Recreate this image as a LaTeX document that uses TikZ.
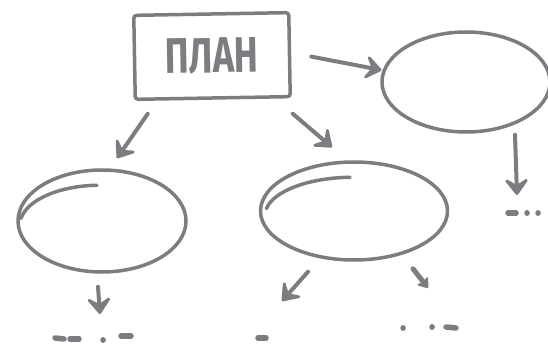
\documentclass[tikz,border=0pt]{standalone}
\usepackage{fontspec}
\setsansfont{Fira Sans}
\usepackage{graphicx}
\usetikzlibrary{positioning}
\usetikzlibrary{arrows.meta,shapes.geometric}
\definecolor{pen}{RGB}{125,125,129}
\tikzstyle{planbox}=[draw=pen,line width=3.5pt,rounded corners=3pt,minimum width=155pt,minimum height=84pt,inner sep=0pt,text=pen,font=\sffamily\bfseries\fontsize{50}{50}\selectfont]
\tikzstyle{bubble}=[ellipse,draw=pen,line width=3.5pt,inner sep=0pt]
\tikzstyle{edge} = [draw=pen,line width=4pt,line cap=round,line join=round,-{Stealth[length=20pt,width=30pt,inset=9pt,round]}]
\tikzstyle{smalledge} = [draw=pen,line width=5pt,line cap=round,line join=round,-{Stealth[length=11pt,width=16pt,inset=3pt,round]}]
\tikzstyle{scribble} = [draw=pen,line width=5.5pt,line cap=round]
\tikzstyle{stroke} = [draw=pen,line width=3.5pt,line cap=round]

\begin{document}
\begin{tikzpicture}[x=1pt,y=-1pt]
    \useasboundingbox (0,0) rectangle (548,344);

    \node[planbox,rotate=1] (plan) at (212,56) {\scalebox{0.72}[1]{ПЛАН}};

    \foreach \pos/\name/\w/\h in {{(466,82)/right/168/100}, {(102,221)/left/168/102}, {(354,211)/middle/187/98}}
        \node[bubble,minimum width=\w pt,minimum height=\h pt] (\name) at \pos {};

    % where the pen started each loop
    \path[stroke] ([xshift=-5pt,yshift=-17pt]left.north) arc[start angle=92,end angle=170,x radius=80pt,y radius=40pt];
    \path[stroke] ([xshift=-4pt,yshift=-17pt]middle.north) arc[start angle=92,end angle=170,x radius=88pt,y radius=38pt];

    \coordinate (rdown) at (517,195);
    \coordinate (ldown) at (100,314);
    \coordinate (mleft) at (282,301);
    \coordinate (mright) at (428,288);

    \path[edge,shorten >=1pt] ([xshift=20pt,yshift=-2pt]plan.east) -- (right.172);
    \path[edge] ([xshift=-65pt,yshift=-14pt]plan.south) -- ([xshift=15pt,yshift=10pt]left.north);
    \path[edge] ([xshift=80pt,yshift=-14pt]plan.south) -- ([xshift=-22pt,yshift=13pt]middle.north);
    \path[edge] ([xshift=49pt,yshift=-1pt]right.south) -- (rdown);
    \path[edge] ([xshift=-4pt,yshift=-13pt]left.south) -- (ldown);
    \path[edge] ([xshift=-46pt,yshift=-10pt]middle.south) -- (mleft);
    \path[smalledge] ([xshift=59pt,yshift=-7pt]middle.south) -- (mright);

    % dots and dashes under the arrows
    \foreach \from/\to in {{(55,338)/(64,339)}, {(70,339)/(79,339)}, {(103,340)/(103.1,340)}, {(121,336)/(131,336)},
                           {(258,338)/(266,338)},
                           {(403,328)/(403.1,328)}, {(432,327)/(432.1,327)}, {(446,327)/(456,328)},
                           {(508,213)/(516,213)}, {(527,213)/(527.1,213)}, {(538,213)/(538.1,213)}}
        \path[scribble] \from -- \to;

\end{tikzpicture}
\end{document}
